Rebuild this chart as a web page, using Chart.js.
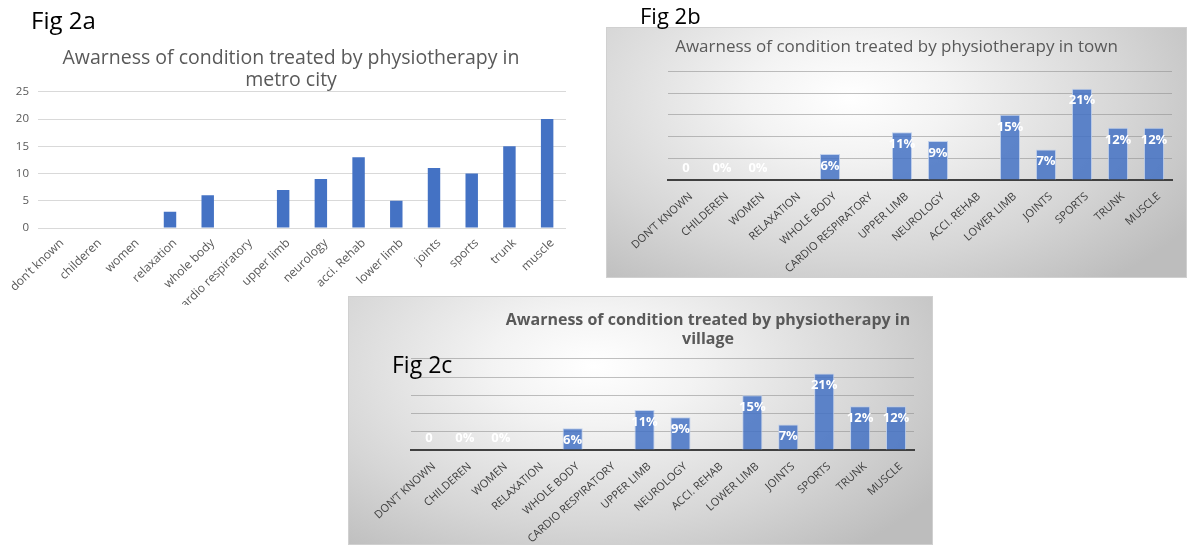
<!DOCTYPE html>
<html>
<head>
<meta charset="utf-8">
<script src="https://cdn.jsdelivr.net/npm/chart.js@4.4.1/dist/chart.umd.min.js"></script>
<style>
  body { margin: 0; background: #fff; }
  #page { position: relative; width: 1187px; height: 545px; overflow: hidden; font-family: "Open Sans", sans-serif; }
  .panel { position: absolute; box-sizing: border-box; border: 1px solid #d0d0d0;
    background: radial-gradient(ellipse 70% 95% at 42% 28%, #ffffff 0%, #f3f3f3 25%, #d6d6d6 68%, #bdbdbd 100%); }
  canvas { position: absolute; }
  .fig { position: absolute; color: #000; z-index: 5; }
</style>
</head>
<body>
<div id="page">
  <div class="fig" style="left:31px; top:3px; font-size:24px;">Fig 2a</div>
  <div class="fig" style="left:640px; top:0px; font-size:22px;">Fig 2b</div>
  <div class="panel" style="left:606px; top:27px; width:581px; height:251px;"></div>
  <div class="panel" style="left:348px; top:296px; width:585px; height:249px;"></div>
  <div class="fig" style="left:392px; top:348px; font-size:23px;">Fig 2c</div>
  <canvas id="metroChart" width="582" height="305" style="left:0px; top:0px;"></canvas>
  <canvas id="townChart" width="581" height="251" style="left:606px; top:27px;"></canvas>
  <canvas id="villageChart" width="720" height="249" style="left:348px; top:296px;"></canvas>
</div>
<script>
// --- Data ---
const metroCategories = ['don’t known', 'childeren', 'women', 'relaxation', 'whole body', 'cardio respiratory',
  'upper limb', 'neurology', 'acci. Rehab', 'lower limb', 'joints', 'sports', 'trunk', 'muscle'];
const upperCategories = ['DON’T KNOWN', 'CHILDEREN', 'WOMEN', 'RELAXATION', 'WHOLE BODY', 'CARDIO RESPIRATORY',
  'UPPER LIMB', 'NEUROLOGY', 'ACCI. REHAB', 'LOWER LIMB', 'JOINTS', 'SPORTS', 'TRUNK', 'MUSCLE'];
const metroValues = [0, 0, 0, 3, 6, 0, 7, 9, 13, 5, 11, 10, 15, 20];
const townValues = [0, 0, 0, 0, 6, 0, 11, 9, 0, 15, 7, 21, 12, 12];
const villageValues = [0, 0, 0, 0, 6, 0, 11, 9, 0, 15, 7, 21, 12, 12];
const townLabels = ['0', '0%', '0%', '', '6%', '', '11%', '9%', '', '15%', '7%', '21%', '12%', '12%'];
const villageLabels = ['0', '0%', '0%', '', '6%', '', '11%', '9%', '', '15%', '7%', '21%', '12%', '12%'];
const yTicks = [0, 5, 10, 15, 20, 25];

Chart.defaults.font.family = '"Open Sans", sans-serif';

// white value labels just inside the top of each bar
const barValueLabels = {
  id: 'barValueLabels',
  afterDatasetsDraw(chart, args, opts) {
    const labels = opts.labels;
    if (!labels) return;
    const ctx = chart.ctx;
    const meta = chart.getDatasetMeta(0);
    ctx.save();
    ctx.font = 'bold 13px "Open Sans", sans-serif';
    ctx.fillStyle = '#ffffff';
    ctx.textAlign = 'center';
    ctx.textBaseline = 'middle';
    meta.data.forEach((bar, i) => {
      const text = labels[i];
      if (!text) return;
      const { x, y, base } = bar.getProps(['x', 'y', 'base'], true);
      const ty = base - y > 1 ? y + 12 : base - 12;
      ctx.fillText(text, x, ty);
    });
    ctx.restore();
  }
};

const fixWidth = (w) => (scale) => { scale.width = w; };
const fixHeight = (h) => (scale) => { scale.height = h; };

// a blank axis that only reserves room on the right
const spacerAxis = (w) => ({
  position: 'right', display: true,
  grid: { display: false }, border: { display: false },
  ticks: { display: false }, afterFit: fixWidth(w)
});

// --- Fig 2a ---
new Chart(document.getElementById('metroChart'), {
  type: 'bar',
  data: {
    labels: metroCategories,
    datasets: [{ data: metroValues, backgroundColor: '#4472C4', barPercentage: 0.33, categoryPercentage: 1 }]
  },
  options: {
    responsive: false,
    animation: false,
    layout: { padding: 0 },
    plugins: {
      legend: { display: false },
      tooltip: { enabled: false },
      title: {
        display: true,
        text: ['Awarness of condition treated by physiotherapy in', 'metro city'],
        color: '#595959',
        font: { size: 19.5, weight: 'normal', lineHeight: 1.15 },
        padding: { top: 47, bottom: 0 }
      }
    },
    scales: {
      x: {
        grid: { display: false }, border: { display: false },
        ticks: { color: '#595959', font: { size: 12 }, minRotation: 44, maxRotation: 44, autoSkip: false,
          padding: 0, labelOffset: 5 },
        afterFit: fixHeight(77)
      },
      y: {
        min: 0, max: 25,
        afterBuildTicks: (scale) => { scale.ticks = yTicks.map(v => ({ value: v })); },
        grid: { color: '#d9d9d9', drawTicks: false }, border: { display: false },
        ticks: { color: '#595959', font: { size: 11.5 }, padding: 9 },
        afterFit: fixWidth(38)
      },
      yR: spacerAxis(16)
    }
  }
});

// --- Fig 2b / 2c ---
function panelChart(id, values, labels, title, titleFont, titlePad, leftW, rightW, xHeight) {
  return new Chart(document.getElementById(id), {
    type: 'bar',
    data: {
      labels: upperCategories,
      datasets: [{
        data: values,
        backgroundColor: 'rgba(68, 114, 196, 0.85)',
        borderColor: 'rgba(190, 206, 235, 0.9)',
        borderWidth: 1,
        barPercentage: 0.56,
        categoryPercentage: 1
      }]
    },
    plugins: [barValueLabels],
    options: {
      responsive: false,
      animation: false,
      layout: { padding: 0 },
      plugins: {
        legend: { display: false },
        tooltip: { enabled: false },
        title: { display: true, text: title, color: '#595959', font: titleFont, padding: titlePad },
        barValueLabels: { labels: labels }
      },
      scales: {
        x: {
          grid: { display: false },
          border: { display: true, color: '#404040', width: 2 },
          ticks: { color: '#404040', font: { size: 11 }, minRotation: 42, maxRotation: 42, autoSkip: false,
            padding: 2, labelOffset: 5 },
          afterFit: fixHeight(xHeight)
        },
        y: {
          min: 0, max: 25,
          afterBuildTicks: (scale) => { scale.ticks = yTicks.map(v => ({ value: v })); },
          grid: { color: 'rgba(140, 140, 140, 0.55)', drawTicks: false },
          border: { display: false },
          ticks: { display: false },
          afterFit: fixWidth(leftW)
        },
        yR: spacerAxis(rightW)
      }
    }
  });
}

panelChart('townChart', townValues, townLabels,
  'Awarness of condition treated by physiotherapy in town',
  { size: 17, weight: 'normal', lineHeight: 1.2 }, { top: 10, bottom: 14 }, 62, 15, 98);

panelChart('villageChart', villageValues, villageLabels,
  ['Awarness of condition treated by physiotherapy in', 'village'],
  { size: 16, weight: 'bold', lineHeight: 1.2 }, { top: 14.5, bottom: 10 }, 63, 154, 95);
</script>
</body>
</html>
